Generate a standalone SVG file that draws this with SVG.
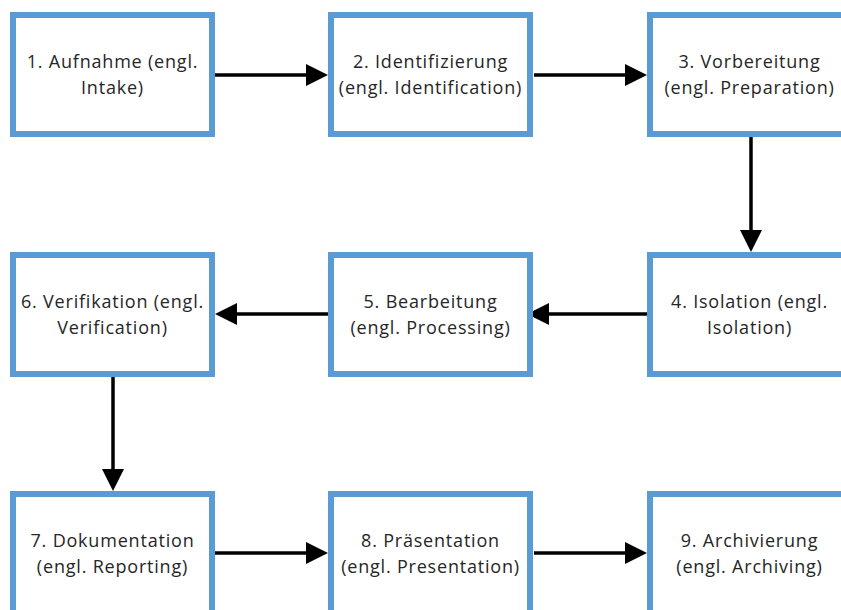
<svg xmlns="http://www.w3.org/2000/svg" width="841" height="610" viewBox="0 0 841 610">
<style>
.box{fill:#fff;stroke:#5B9BD5;stroke-width:6}
.lbl{font-family:"Open Sans","Liberation Sans",sans-serif;font-size:18px;fill:#262626;text-anchor:middle;letter-spacing:0.8px}
.conn{stroke:#000;stroke-width:3.5;fill:none;marker-end:url(#ah)}
</style>
<defs>
<marker id="ah" viewBox="0 0 22 22" refX="0" refY="11" markerWidth="22" markerHeight="22" markerUnits="userSpaceOnUse" orient="auto">
<path d="M0,0 L22,11 L0,22 z" fill="#000"/>
</marker>
</defs>
<rect width="841" height="610" fill="#fff"/>
<g id="connectors">
<line class="conn" x1="215" y1="75" x2="306" y2="75"/>
<line class="conn" x1="534" y1="75" x2="625" y2="75"/>
<line class="conn" x1="751" y1="137" x2="751" y2="230"/>
<line class="conn" x1="647" y1="314" x2="549" y2="314"/>
<line class="conn" x1="328" y1="314" x2="237" y2="314"/>
<line class="conn" x1="113" y1="377" x2="113" y2="469"/>
<line class="conn" x1="215" y1="553" x2="306" y2="553"/>
<line class="conn" x1="534" y1="553" x2="625" y2="553"/>
</g>
<g id="n1"><rect class="box" x="13" y="15" width="199" height="119"/><text class="lbl" x="112.5" y="68">1. Aufnahme (engl.</text><text class="lbl" x="112.5" y="94">Intake)</text></g>
<g id="n2"><rect class="box" x="331" y="15" width="199" height="119"/><text class="lbl" x="430.5" y="68">2. Identifizierung</text><text class="lbl" x="430.5" y="94">(engl. Identification)</text></g>
<g id="n3"><rect class="box" x="650" y="15" width="199" height="119"/><text class="lbl" x="749.5" y="68">3. Vorbereitung</text><text class="lbl" x="749.5" y="94">(engl. Preparation)</text></g>
<g id="n4"><rect class="box" x="650" y="255" width="199" height="119"/><text class="lbl" x="749.5" y="308">4. Isolation (engl.</text><text class="lbl" x="749.5" y="334">Isolation)</text></g>
<g id="n5"><rect class="box" x="331" y="255" width="199" height="119"/><text class="lbl" x="430.5" y="308">5. Bearbeitung</text><text class="lbl" x="430.5" y="334">(engl. Processing)</text></g>
<g id="n6"><rect class="box" x="13" y="255" width="199" height="119"/><text class="lbl" x="112.5" y="308">6. Verifikation (engl.</text><text class="lbl" x="112.5" y="334">Verification)</text></g>
<g id="n7"><rect class="box" x="13" y="494" width="199" height="119"/><text class="lbl" x="112.5" y="547">7. Dokumentation</text><text class="lbl" x="112.5" y="573">(engl. Reporting)</text></g>
<g id="n8"><rect class="box" x="331" y="494" width="199" height="119"/><text class="lbl" x="430.5" y="547">8. Präsentation</text><text class="lbl" x="430.5" y="573">(engl. Presentation)</text></g>
<g id="n9"><rect class="box" x="650" y="494" width="199" height="119"/><text class="lbl" x="749.5" y="547">9. Archivierung</text><text class="lbl" x="749.5" y="573">(engl. Archiving)</text></g>
</svg>
